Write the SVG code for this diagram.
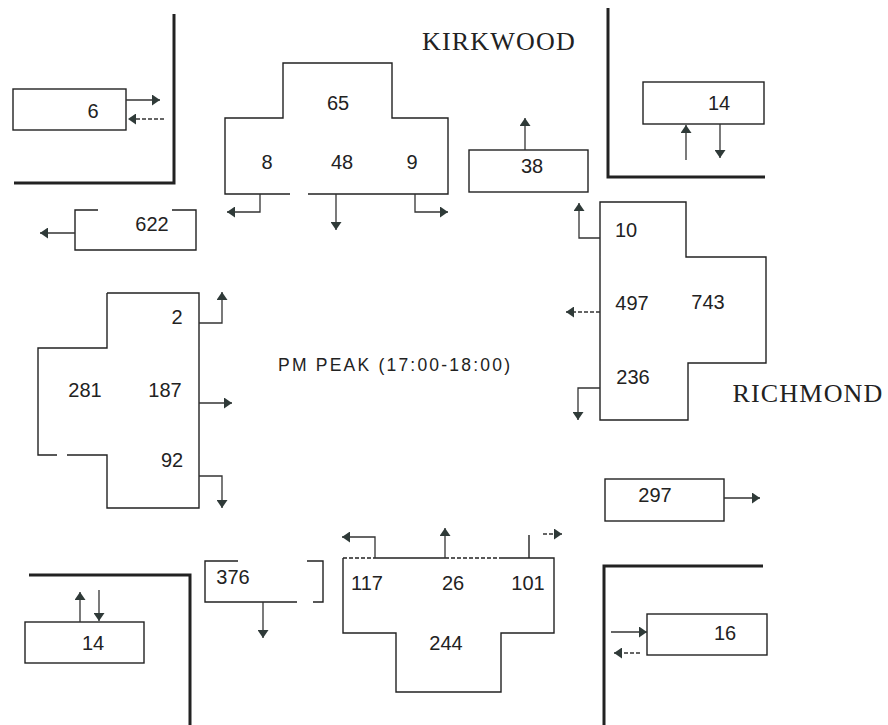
<svg xmlns="http://www.w3.org/2000/svg" width="888" height="725" viewBox="0 0 888 725">
<style>
.bg{fill:#fff}
.wall{fill:none;stroke:#222;stroke-width:3}
.box{fill:none;stroke:#222;stroke-width:1.4}
.num{font-family:"Liberation Sans",Arial,sans-serif;font-size:20px;fill:#222;text-anchor:middle}
.street{font-family:"Liberation Serif","Times New Roman",serif;font-size:26px;fill:#222;text-anchor:middle;letter-spacing:1.2px}
.title{font-family:"Liberation Sans",Arial,sans-serif;font-size:17.5px;fill:#222}
.arr{fill:none;stroke:#333;stroke-width:1.3;marker-end:url(#ah)}
.dash{stroke-dasharray:4 2}
</style>
<defs>
<marker id="ah" viewBox="0 0 8 11" refX="8" refY="5.5" markerWidth="8" markerHeight="11" markerUnits="userSpaceOnUse" orient="auto" preserveAspectRatio="none">
<path d="M0,0 L8,5.5 L0,11 z" fill="#2f3a38"/>
</marker>
</defs>
<rect class="bg" x="0" y="0" width="888" height="725"/>

<g id="corners">
<path class="wall" d="M174,14 V183 H14"/>
<path class="wall" d="M608,8 V177 H765"/>
<path class="wall" d="M29,575 H190 V725"/>
<path class="wall" d="M763,566 H604 V725"/>
</g>

<g id="labels">
<text class="street" x="499" y="50">KIRKWOOD</text>
<text class="street" x="808" y="402">RICHMOND</text>
<text class="title" x="278" y="371" textLength="232" lengthAdjust="spacing">PM PEAK (17:00-18:00)</text>
</g>

<g id="node-nw-6">
<rect class="box" x="13" y="89" width="113" height="41"/>
<text class="num" x="93" y="118">6</text>
</g>
<g id="node-w-622">
<path class="box" d="M98,210 H75 V250 H196 V210 H172"/>
<text class="num" x="152" y="231">622</text>
</g>
<g id="node-north">
<path class="box" d="M290,194 H225 V118 H283 V63 H392 V118 H448 V194 H308"/>
<text class="num" x="338" y="110">65</text>
<text class="num" x="267" y="169">8</text>
<text class="num" x="342" y="169">48</text>
<text class="num" x="412" y="169">9</text>
</g>
<g id="node-n-38">
<rect class="box" x="469" y="150" width="119" height="42"/>
<text class="num" x="532" y="173">38</text>
</g>
<g id="node-ne-14">
<rect class="box" x="643" y="82" width="121" height="42"/>
<text class="num" x="719" y="110">14</text>
</g>
<g id="node-east">
<path class="box" d="M600,202 H686 V257 H766 V363 H688 V420 H600 Z"/>
<text class="num" x="626" y="237">10</text>
<text class="num" x="632" y="310">497</text>
<text class="num" x="708" y="309">743</text>
<text class="num" x="633" y="384">236</text>
</g>
<g id="node-west">
<path class="box" d="M107,293 H199 V508 H107 V455 H67 M57,455 H38 V348 H107 V293"/>
<text class="num" x="177" y="324">2</text>
<text class="num" x="85" y="397">281</text>
<text class="num" x="165" y="397">187</text>
<text class="num" x="172" y="467">92</text>
</g>
<g id="node-e-297">
<rect class="box" x="605" y="479" width="119" height="42"/>
<text class="num" x="655" y="502">297</text>
</g>
<g id="node-sw-14">
<rect class="box" x="25" y="622" width="119" height="41"/>
<text class="num" x="93" y="650">14</text>
</g>
<g id="node-s-376">
<path class="box" d="M238,561 H205 V602 H297 M307,561 H323 V602 H313"/>
<text class="num" x="233" y="584">376</text>
</g>
<g id="node-south">
<path class="box" d="M375,558 H445 M500,558 H554 V633 H501 V692 H396 V633 H343 V558"/>
<path class="box dash" d="M343,558 H375 M445,558 H500"/>
<text class="num" x="367" y="590">117</text>
<text class="num" x="453" y="590">26</text>
<text class="num" x="528" y="590">101</text>
<text class="num" x="446" y="650">244</text>
</g>
<g id="node-se-16">
<rect class="box" x="647" y="614" width="120" height="41"/>
<text class="num" x="725" y="640">16</text>
</g>

<g id="connectors">
<path class="arr" d="M126,100 H160"/>
<path class="arr dash" d="M164,119 H128"/>
<path class="arr" d="M75,233 H40"/>
<path class="arr" d="M260,194 V212 H227"/>
<path class="arr" d="M336,194 V230"/>
<path class="arr" d="M415,194 V212 H448"/>
<path class="arr" d="M525,150 V118"/>
<path class="arr" d="M686,160 V125"/>
<path class="arr" d="M720,124 V158"/>
<path class="arr" d="M600,238 H579 V203"/>
<path class="arr dash" d="M600,312 H566"/>
<path class="arr" d="M600,388 H578 V420"/>
<path class="arr" d="M199,323 H222 V292"/>
<path class="arr" d="M199,403 H232"/>
<path class="arr" d="M199,476 H222 V508"/>
<path class="arr" d="M724,498 H760"/>
<path class="arr" d="M80,622 V592"/>
<path class="arr" d="M99,590 V621"/>
<path class="arr" d="M263,602 V638"/>
<path class="arr" d="M375,558 V537 H342"/>
<path class="arr" d="M445,558 V528"/>
<path class="box" d="M529,558 V535"/>
<path class="arr dash" d="M543,534 H562"/>
<path class="arr" d="M611,632 H647"/>
<path class="arr dash" d="M640,653 H614"/>
</g>
</svg>
